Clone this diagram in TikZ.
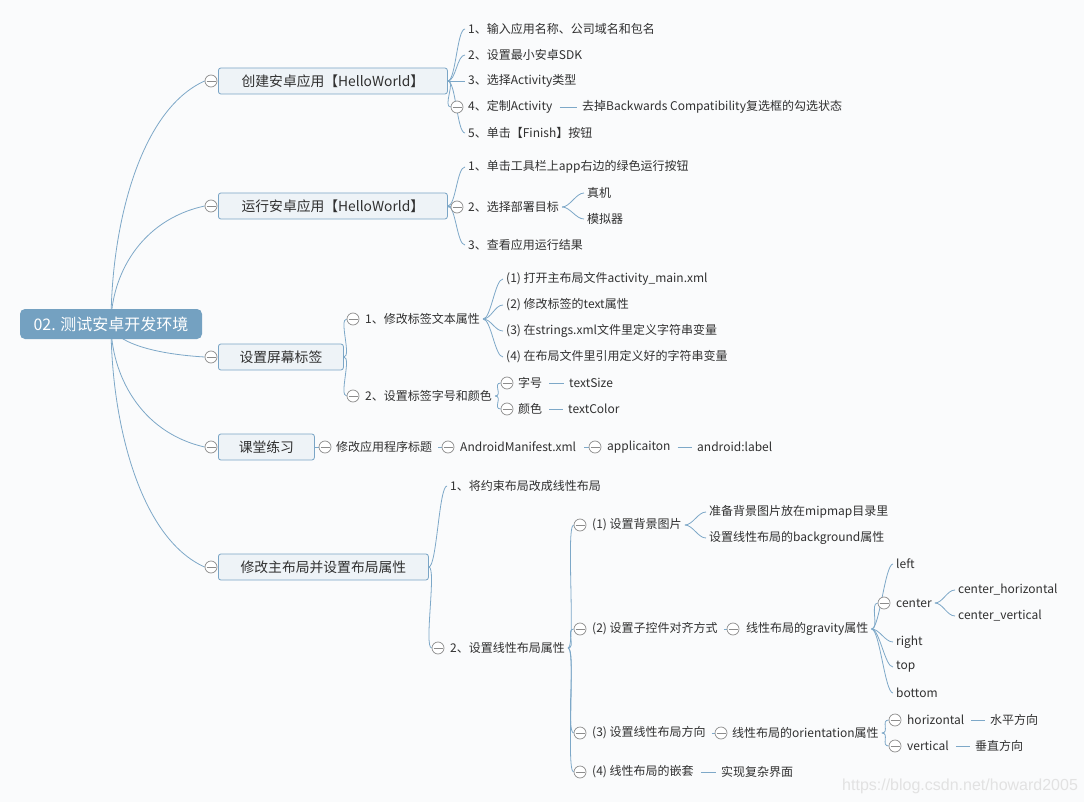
\documentclass[tikz,border=0pt]{standalone}
\usepackage{fontspec}
\setmainfont{Noto Sans CJK SC}
\newfontfamily\wmfont{Liberation Sans}
\usetikzlibrary{backgrounds,calc}
\definecolor{bgc}{RGB}{250,251,252}
\definecolor{linkc}{RGB}{125,168,200}
\definecolor{rootc}{RGB}{116,161,193}
\definecolor{boxfill}{RGB}{238,243,247}
\definecolor{boxline}{RGB}{122,165,198}
\definecolor{foldc}{RGB}{140,140,140}
\definecolor{textc}{RGB}{48,48,48}
\definecolor{wmc}{RGB}{226,226,226}

\begin{document}
\begin{tikzpicture}[
    x=1pt, y=-1pt,
    central/.style={rectangle, rounded corners=5pt, fill=rootc, text=white,
      font=\fontsize{16}{18}\selectfont, minimum width=182pt, minimum height=30pt},
    topic/.style={rectangle, rounded corners=2.5pt, draw=boxline, fill=boxfill,
      line width=0.8pt, text=textc, font=\fontsize{13.8}{16}\selectfont,
      minimum height=26pt, minimum width=#1, anchor=west},
    leaf/.style={anchor=west, inner xsep=3pt, inner ysep=0pt, text=textc,
      font=\fontsize{12}{14}\selectfont},
    fold/.style={circle, draw=foldc, fill=white, line width=0.7pt,
      minimum size=12pt, inner sep=0pt,
      path picture={\draw[foldc, line width=0.7pt]
        ([xshift=-4.5pt]path picture bounding box.center) --
        ([xshift=4.5pt]path picture bounding box.center);}},
    link/.style={draw=linkc, line width=0.8pt},
    curvelink/.style={link, out=0, in=180, distance=8pt},
    plainlink/.style={link, shorten <=4pt, shorten >=2pt},
  ]
  \useasboundingbox (0,0) rectangle (1084,802);

  \node[central] (hub) at (111,324) {02. 测试安卓开发环境};

  % 创建安卓应用
  \node[fold] (f1) at (211,81) {};
  \node[topic=229pt] (t1) at (218,81) {创建安卓应用【HelloWorld】};
  \node[leaf] (a1) at (465,29) {1、输入应用名称、公司域名和包名};
  \node[leaf] (a2) at (465,55) {2、设置最小安卓SDK};
  \node[leaf] (a3) at (465,81) {3、选择Activity类型};
  \node[fold] (f11) at (457,107) {};
  \node[leaf] (a4) at (465,107) {4、定制Activity};
  \node[leaf] (a41) at (579,107) {去掉Backwards Compatibility复选框的勾选状态};
  \node[leaf] (a5) at (465,133) {5、单击【Finish】按钮};

  % 运行安卓应用
  \node[fold] (f2) at (211,206) {};
  \node[topic=229pt] (t2) at (218,206) {运行安卓应用【HelloWorld】};
  \node[leaf] (b1) at (465,167) {1、单击工具栏上app右边的绿色运行按钮};
  \node[fold] (f21) at (457,207) {};
  \node[leaf] (b2) at (465,207) {2、选择部署目标};
  \node[leaf] (b21) at (584,193) {真机};
  \node[leaf] (b22) at (584,219) {模拟器};
  \node[leaf] (b3) at (465,245) {3、查看应用运行结果};

  % 设置屏幕标签
  \node[fold] (f3) at (211,357) {};
  \node[topic=125pt] (t3) at (218,357) {设置屏幕标签};
  \node[fold] (f31) at (353,319) {};
  \node[leaf] (c1) at (362,319) {1、修改标签文本属性};
  \node[leaf] (c11) at (503,279) {(1) 打开主布局文件activity\_main.xml};
  \node[leaf] (c12) at (503,305) {(2) 修改标签的text属性};
  \node[leaf] (c13) at (503,331) {(3) 在strings.xml文件里定义字符串变量};
  \node[leaf] (c14) at (503,357) {(4) 在布局文件里引用定义好的字符串变量};
  \node[fold] (f32) at (353,396) {};
  \node[leaf] (c2) at (362,396) {2、设置标签字号和颜色};
  \node[fold] (f321) at (507,383) {};
  \node[leaf] (c21) at (515,383) {字号};
  \node[leaf] (c211) at (566,383) {textSize};
  \node[fold] (f322) at (507,409) {};
  \node[leaf] (c22) at (515,409) {颜色};
  \node[leaf] (c221) at (565,409) {textColor};

  % 课堂练习
  \node[fold] (f4) at (211,447) {};
  \node[topic=96pt] (t4) at (218,447) {课堂练习};
  \node[fold] (f41) at (325,447) {};
  \node[leaf] (d1) at (333,447) {修改应用程序标题};
  \node[fold] (f42) at (448,447) {};
  \node[leaf] (d2) at (457,447) {AndroidManifest.xml};
  \node[fold] (f43) at (595,447) {};
  \node[leaf] (d3) at (604,447) {applicaiton};
  \node[leaf] (d4) at (694,447) {android:label};

  % 修改主布局
  \node[fold] (f5) at (211,567) {};
  \node[topic=210pt] (t5) at (218,567) {修改主布局并设置布局属性};
  \node[leaf] (e1) at (447,486) {1、将约束布局改成线性布局};
  \node[fold] (f51) at (438,648) {};
  \node[leaf] (e2) at (447,648) {2、设置线性布局属性};
  \node[fold] (f52) at (580,525) {};
  \node[leaf] (g1) at (589,525) {(1) 设置背景图片};
  \node[leaf] (g11) at (706,512) {准备背景图片放在mipmap目录里};
  \node[leaf] (g12) at (706,538) {设置线性布局的background属性};
  \node[fold] (f53) at (580,629) {};
  \node[leaf] (g2) at (589,629) {(2) 设置子控件对齐方式};
  \node[fold] (f531) at (733,629) {};
  \node[leaf] (g21) at (743,629) {线性布局的gravity属性};
  \node[leaf] (h1) at (893,564) {left};
  \node[fold] (f532) at (884,603) {};
  \node[leaf] (h2) at (893,603) {center};
  \node[leaf] (h21) at (955,590) {center\_horizontal};
  \node[leaf] (h22) at (955,616) {center\_vertical};
  \node[leaf] (h3) at (893,642) {right};
  \node[leaf] (h4) at (893,667) {top};
  \node[leaf] (h5) at (893,693) {bottom};
  \node[fold] (f54) at (580,733) {};
  \node[leaf] (g3) at (589,733) {(3) 设置线性布局方向};
  \node[fold] (f541) at (721,733) {};
  \node[leaf] (g31) at (729,733) {线性布局的orientation属性};
  \node[fold] (f542) at (895,720) {};
  \node[leaf] (k1) at (904,720) {horizontal};
  \node[leaf] (k11) at (987,720) {水平方向};
  \node[fold] (f543) at (895,746) {};
  \node[leaf] (k2) at (904,746) {vertical};
  \node[leaf] (k21) at (972,746) {垂直方向};
  \node[fold] (f55) at (580,772) {};
  \node[leaf] (g4) at (589,772) {(4) 线性布局的嵌套};
  \node[leaf] (g41) at (718,772) {实现复杂界面};

  \node[anchor=west, inner sep=0pt, text=wmc, font=\wmfont\fontsize{16}{18}\selectfont]
    (mark) at (842,786) {https://blog.csdn.net/howard2005};

  \begin{scope}[on background layer]
    \fill[bgc] (0,0) rectangle (1084,802);
    \foreach \f in {f1,f2,f3,f4,f5}
      \draw[link] (hub.center)
        .. controls ($(hub.center)!0.4!(hub.center |- \f.west)$)
        and ($(\f.west)!0.12!(hub.center)+(-54,0)$) .. (\f.west);

    \foreach \n in {a1,a2,a3,f11,a5}
      \draw[curvelink] (t1.east) to (\n.west);
    \draw[plainlink] (a4.east) -- (a41.west);

    \foreach \n in {b1,f21,b3}
      \draw[curvelink] (t2.east) to (\n.west);
    \foreach \n in {b21,b22}
      \draw[curvelink] (b2.east) to (\n.west);

    \foreach \n in {f31,f32}
      \draw[curvelink] (t3.east) to (\n.west);
    \foreach \n in {c11,c12,c13,c14}
      \draw[curvelink] (c1.east) to (\n.west);
    \foreach \n in {f321,f322}
      \draw[curvelink] (c2.east) to (\n.west);
    \draw[plainlink] (c21.east) -- (c211.west);
    \draw[plainlink] (c22.east) -- (c221.west);

    \draw[link] (t4.east) -- (f41.west);
    \draw[link, shorten <=3pt] (d1.east) -- (f42.west);
    \draw[link, shorten <=5pt] (d2.east) -- (f43.west);
    \draw[plainlink] (d3.east) -- (d4.west);

    \foreach \n in {e1,f51}
      \draw[curvelink] (t5.east) to (\n.west);
    \foreach \n in {f52,f53,f54,f55}
      \draw[curvelink] (e2.east) to (\n.west);
    \foreach \n in {g11,g12}
      \draw[curvelink] (g1.east) to (\n.west);
    \draw[link, shorten <=3pt] (g2.east) -- (f531.west);
    \foreach \n in {h1,f532,h3,h4,h5}
      \draw[curvelink] (g21.east) to (\n.west);
    \foreach \n in {h21,h22}
      \draw[curvelink] (h2.east) to (\n.west);
    \draw[link, shorten <=3pt] (g3.east) -- (f541.west);
    \foreach \n in {f542,f543}
      \draw[curvelink] (g31.east) to (\n.west);
    \draw[plainlink] (k1.east) -- (k11.west);
    \draw[plainlink] (k2.east) -- (k21.west);
    \draw[plainlink] (g4.east) -- (g41.west);
  \end{scope}
\end{tikzpicture}
\end{document}
